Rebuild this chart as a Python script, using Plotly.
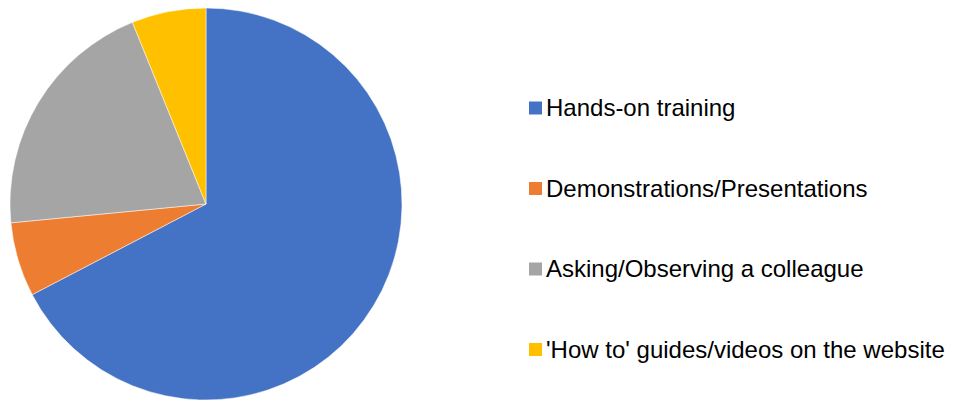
import plotly.graph_objects as go

# Survey responses: preferred way of learning
categories = [
    "Hands-on training",
    "Demonstrations/Presentations",
    "Asking/Observing a colleague",
    "'How to' guides/videos on the website",
]
responses = [33, 3, 10, 3]
colors = ["#4472C4", "#ED7D31", "#A5A5A5", "#FFC000"]

W, H = 955, 400

fig = go.Figure(
    go.Pie(
        labels=categories,
        values=responses,
        sort=False,
        direction="clockwise",
        rotation=0,
        textinfo="none",
        hoverinfo="label+value+percent",
        marker=dict(colors=colors, line=dict(color="white", width=0.5)),
        domain=dict(x=[10 / W, 402 / W], y=[0, 392 / H]),
        showlegend=False,
    )
)

# Legend drawn as colour squares with text labels, evenly spaced down the right side
legend_y = [108, 188.5, 269, 349.5]
sq = 13
shapes = []
annotations = []
for name, col, yc in zip(categories, colors, legend_y):
    shapes.append(
        dict(
            type="rect",
            xref="paper", yref="paper",
            x0=529 / W, x1=(529 + sq) / W,
            y0=1 - (yc + sq / 2) / H, y1=1 - (yc - sq / 2) / H,
            fillcolor=col, line=dict(width=0),
        )
    )
    annotations.append(
        dict(
            text=name,
            xref="paper", yref="paper",
            x=544 / W, y=1 - (yc - 0.5) / H,
            xanchor="left", yanchor="middle",
            showarrow=False,
            font=dict(family="Liberation Sans, Arial, sans-serif", size=24, color="#000000"),
        )
    )

fig.update_layout(
    width=W,
    height=H,
    margin=dict(l=0, r=0, t=0, b=0),
    paper_bgcolor="white",
    plot_bgcolor="white",
    shapes=shapes,
    annotations=annotations,
)

fig.write_html("out.html")
